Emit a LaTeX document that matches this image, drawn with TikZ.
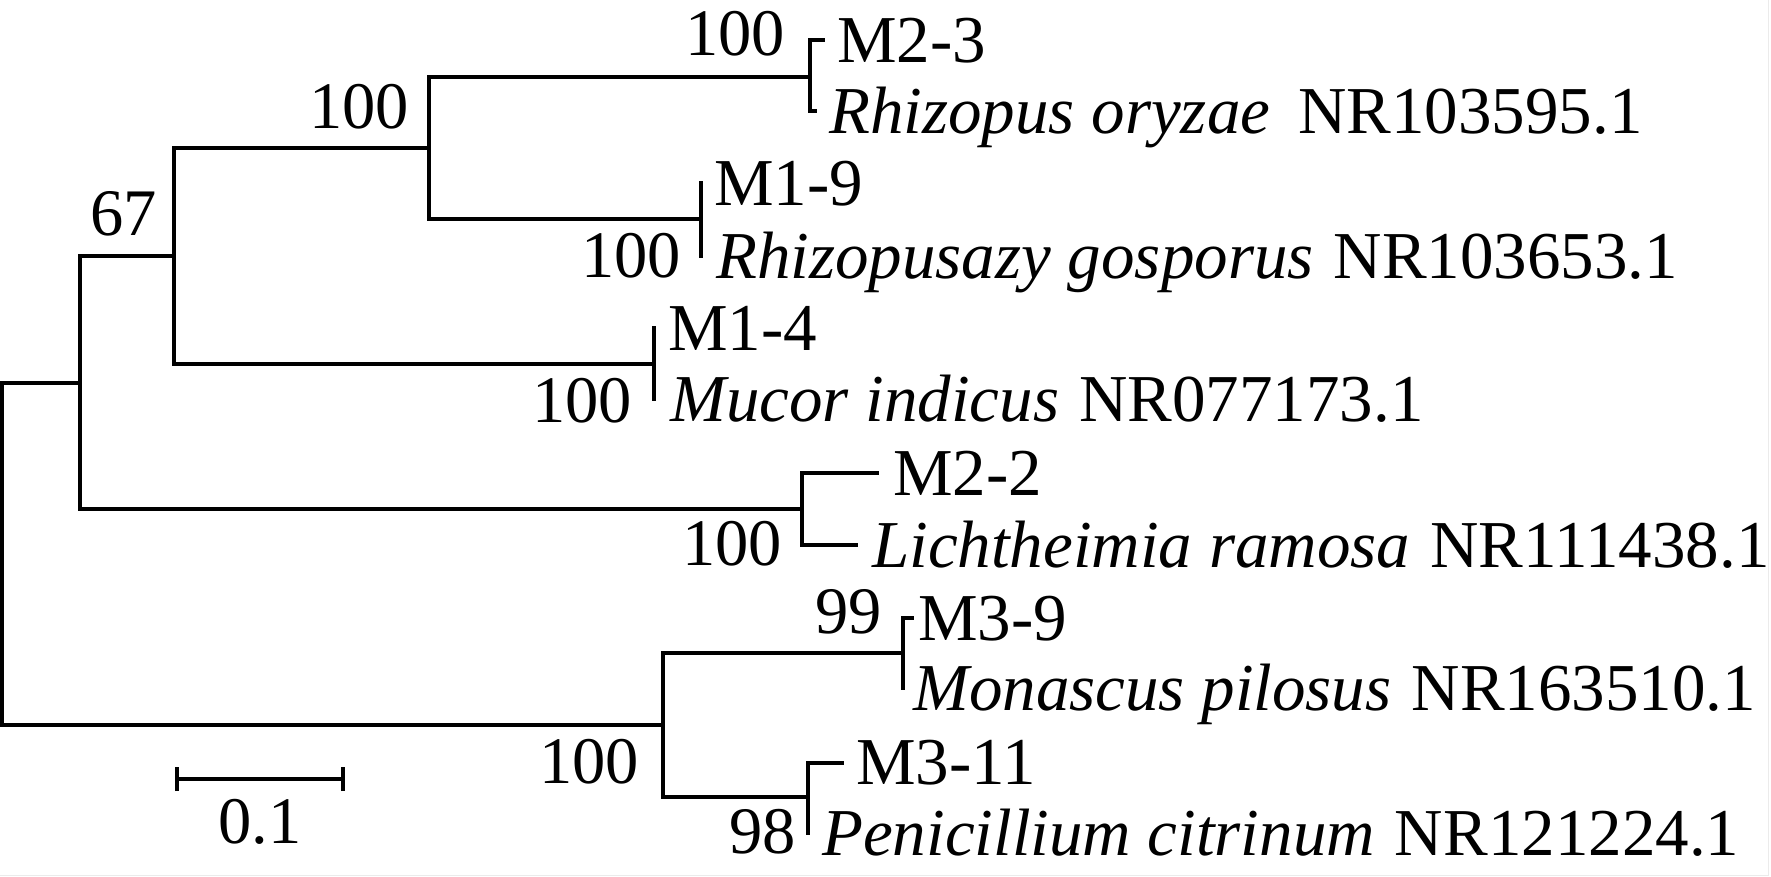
\documentclass[tikz,border=0pt]{standalone}
\usepackage{fontspec}
\setmainfont{Liberation Serif}
\newcommand{\gp}{\hspace{0.3em}}
\begin{document}
\begin{tikzpicture}[x=1pt,y=-1pt,
  branch/.style={line width=4pt,line join=miter,line cap=rect},
  leaf/.style={anchor=base west,inner sep=0pt,font=\fontsize{67}{70}\selectfont},
  boot/.style={anchor=base east,inner sep=0pt,font=\fontsize{66.5}{70}\selectfont},
  frame/.style={draw=black!8,line width=1.5pt}]
\useasboundingbox (0,0) rectangle (1771,876);
\fill[white] (0,0) rectangle (1771,876);
\draw[frame] (1768.5,0) -- (1768.5,875.5) -- (0,875.5);
% internal nodes
\coordinate (R) at (2,554);
\coordinate (A) at (80,383);
\coordinate (B) at (174,256);
\coordinate (C) at (429,148);
\coordinate (D) at (810,77);
\coordinate (E) at (701,219);
\coordinate (F) at (654,364);
\coordinate (G) at (802,509);
\coordinate (H) at (663,725);
\coordinate (I) at (903,653);
\coordinate (J) at (808,797);
% tips
\coordinate (t1) at (823,40);
\coordinate (t2) at (815,111);
\coordinate (t3) at (701,183);
\coordinate (t4) at (701,256);
\coordinate (t5) at (654,328);
\coordinate (t6) at (654,399);
\coordinate (t7) at (877,473);
\coordinate (t8) at (856,545);
\coordinate (t9) at (912,618);
\coordinate (t10) at (903,688);
\coordinate (t11) at (842,763);
\coordinate (t12) at (808,833);
% branches
\draw[branch] (R) |- (A);
\draw[branch] (R) |- (H);
\draw[branch] (A) |- (B);
\draw[branch] (A) |- (G);
\draw[branch] (B) |- (C);
\draw[branch] (B) |- (F);
\draw[branch] (C) |- (D);
\draw[branch] (C) |- (E);
\draw[branch] (D) |- (t1);
\draw[branch] (D) |- (t2);
\draw[branch] (E) |- (t3);
\draw[branch] (E) |- (t4);
\draw[branch] (F) |- (t5);
\draw[branch] (F) |- (t6);
\draw[branch] (G) |- (t7);
\draw[branch] (G) |- (t8);
\draw[branch] (H) |- (I);
\draw[branch] (H) |- (J);
\draw[branch] (I) |- (t9);
\draw[branch] (I) |- (t10);
\draw[branch] (J) |- (t11);
\draw[branch] (J) |- (t12);
% leaf labels
\node[leaf] (l1) at (837,62) {M2-3};
\node[leaf] (l2) at (829,133) {\textit{Rhizopus oryzae}\hspace{0.42em}NR103595.1};
\node[leaf] (l3) at (714,205) {M1-9};
\node[leaf] (l4) at (716,278) {\textit{Rhizopusazy gosporus}\gp NR103653.1};
\node[leaf] (l5) at (668,350) {M1-4};
\node[leaf] (l6) at (670,421) {\textit{Mucor indicus}\gp NR077173.1};
\node[leaf] (l7) at (893,495) {M2-2};
\node[leaf] (l8) at (872,567) {\textit{Lichtheimia ramosa}\gp NR111438.1};
\node[leaf] (l9) at (918,640) {M3-9};
\node[leaf] (l10) at (913,710) {\textit{Monascus pilosus}\gp NR163510.1};
\node[leaf] (l11) at (856,784) {M3-11};
\node[leaf] (l12) at (822,855) {\textit{Penicillium citrinum}\gp NR121224.1};
% bootstrap values
\node[boot] (b1) at (785,55) {100};
\node[boot] (b2) at (409,128) {100};
\node[boot] (b3) at (157,235) {67};
\node[boot] (b4) at (681,277) {100};
\node[boot] (b5) at (632,422) {100};
\node[boot] (b6) at (782,565) {100};
\node[boot] (b7) at (882,633) {99};
\node[boot] (b8) at (639,783) {100};
\node[boot] (b9) at (796,853) {98};
% scale bar
\coordinate (s1) at (177,779);
\coordinate (s2) at (343,779);
\draw[line width=4pt] (s1) -- (s2);
\draw[line width=4pt] ([yshift=-12pt]s1) -- ([yshift=12pt]s1);
\draw[line width=4pt] ([yshift=-12pt]s2) -- ([yshift=12pt]s2);
\node[anchor=base,inner sep=0pt,font=\fontsize{66.5}{70}\selectfont] (sl) at (260,843) {0.1};
\end{tikzpicture}
\end{document}
